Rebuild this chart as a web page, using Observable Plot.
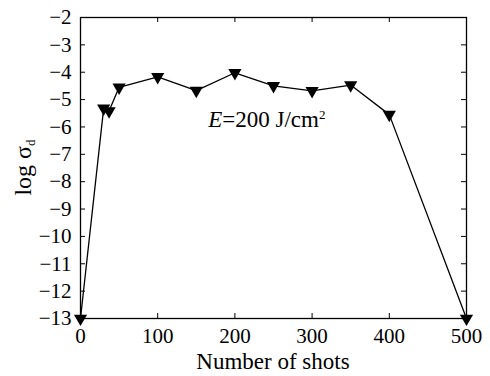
<!DOCTYPE html>
<html>
<head>
<meta charset="utf-8">
<script src="https://cdn.jsdelivr.net/npm/d3@7"></script>
<script src="https://cdn.jsdelivr.net/npm/@observablehq/plot@0.6"></script>
<style>
  html, body { margin: 0; padding: 0; background: #fff; }
  svg, svg text { font-family: "Liberation Serif", serif !important; fill: #000; }
</style>
</head>
<body>
<div id="chart"></div>
<script>
// Data
const shots = [0, 30, 37, 50, 100, 150, 200, 250, 300, 350, 400, 500];
const logSigmaD = [-13, -5.32, -5.42, -4.55, -4.17, -4.67, -4.02, -4.5, -4.68, -4.47, -5.55, -13];
const xTicks = [0, 100, 200, 300, 400, 500];
const yTicks = [-13, -12, -11, -10, -9, -8, -7, -6, -5, -4, -3, -2];
const xLabel = "Number of shots";
const annotation = {x: 242, y: -5.72};

const data = shots.map((s, i) => ({shots: s, v: logSigmaD[i]}));

const W = 490, H = 376;
const mL = 80, mR = 24, mT = 17, mB = 58;
const innerW = W - mL - mR, innerH = H - mT - mB;
const tickLen = 5;
const minus = d => d < 0 ? "\u2212" + Math.abs(d) : String(d);
const serif = "'Liberation Serif', serif";
const tickFont = 21;

const plot = Plot.plot({
  width: W, height: H,
  marginLeft: mL, marginRight: mR, marginTop: mT, marginBottom: mB,
  x: {domain: [0, 500]},
  y: {domain: [-13, -2]},
  style: {fontFamily: serif, fontSize: tickFont + "px", color: "#000", background: "#fff", overflow: "visible"},
  marks: [
    Plot.axisX(xTicks, {tickSize: 0, tickPadding: 10, label: null, tickFormat: minus, fontSize: tickFont, fontFamily: serif}),
    Plot.axisY(yTicks, {tickSize: 0, tickPadding: 9, label: null, tickFormat: minus, fontSize: tickFont, fontFamily: serif}),
    // inward ticks on all four sides
    Plot.tickX(xTicks, {x: d => d, insetTop: innerH - tickLen, stroke: "#000", strokeWidth: 1}),
    Plot.tickX(xTicks, {x: d => d, insetBottom: innerH - tickLen, stroke: "#000", strokeWidth: 1}),
    Plot.tickY(yTicks, {y: d => d, insetRight: innerW - tickLen, stroke: "#000", strokeWidth: 1}),
    Plot.tickY(yTicks, {y: d => d, insetLeft: innerW - tickLen, stroke: "#000", strokeWidth: 1}),
    Plot.frame({stroke: "#000", strokeWidth: 1.3}),
    Plot.line(data, {x: "shots", y: "v", stroke: "#000", strokeWidth: 1.3}),
    Plot.dot(data, {x: "shots", y: "v", symbol: "triangle", rotate: 180, r: 4.9, fill: "#000", stroke: "none"})
  ]
});

document.getElementById("chart").appendChild(plot);

const sx = plot.scale("x"), sy = plot.scale("y");
const svg = d3.select(plot);

// x-axis label
svg.append("text")
  .attr("x", (sx.apply(0) + sx.apply(500)) / 2)
  .attr("y", H - 7)
  .attr("text-anchor", "middle")
  .attr("font-family", serif)
  .attr("font-size", 23)
  .text(xLabel);

// y-axis label: log σ_d
const yl = svg.append("text")
  .attr("transform", `translate(31,${(sy.apply(-2) + sy.apply(-13)) / 2}) rotate(-90)`)
  .attr("text-anchor", "middle")
  .attr("font-family", serif)
  .attr("font-size", 24);
yl.append("tspan").text("log \u03c3");
yl.append("tspan").attr("font-size", 13).attr("dy", 4).text("d");

// annotation E=200 J/cm²
const an = svg.append("text")
  .attr("x", sx.apply(annotation.x))
  .attr("y", sy.apply(annotation.y))
  .attr("dy", "0.35em")
  .attr("text-anchor", "middle")
  .attr("font-family", serif)
  .attr("font-size", 23);
an.append("tspan").attr("font-style", "italic").text("E");
an.append("tspan").text("=200 J/cm");
an.append("tspan").attr("font-size", 13).attr("dy", -8).text("2");
</script>
</body>
</html>
